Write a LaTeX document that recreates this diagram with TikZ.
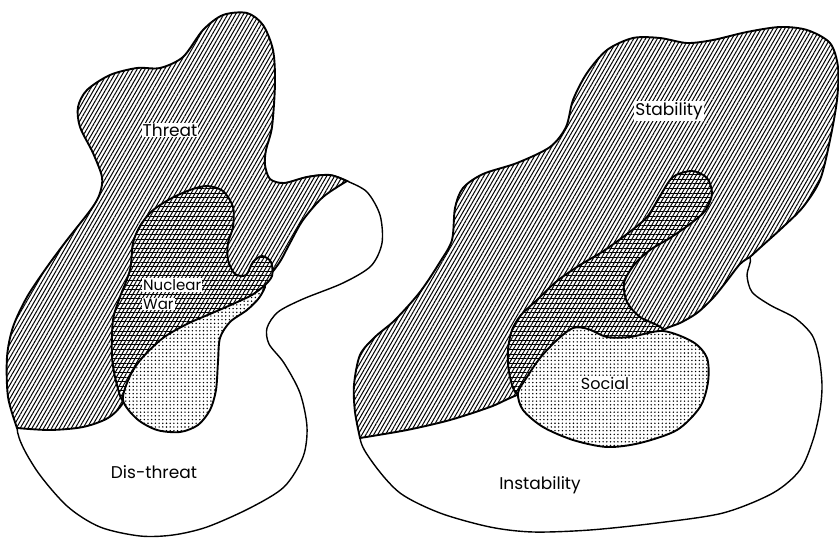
\documentclass[tikz,border=0pt]{standalone}
\usepackage{fontspec}
\setmainfont{Poppins}
\usetikzlibrary{patterns.meta}

\begin{document}
\begin{tikzpicture}[x=1pt,y=-1pt,
	rim/.style={draw,line width=1.4pt,fill=white},
	hatched/.style={draw,line width=1.9pt,preaction={fill=white},
		preaction={pattern={Lines[angle=60,distance=3.4pt,line width=1pt]}}},
	gridded/.style={hatched,preaction={pattern={Lines[angle=0,distance=4.6pt,line width=0.8pt]}}},
	speckled/.style={draw,line width=1.9pt,preaction={fill=white},
		preaction={pattern={Dots[distance=3.7pt,radius=0.8pt]}}},
	lbl/.style={fill=white,inner sep=1pt,font=\fontsize{17}{20}\selectfont},
	sublbl/.style={lbl,font=\fontsize{15}{18}\selectfont}]
	\useasboundingbox (0,0) rectangle (839,538);
	% left: threat
	\draw[rim] plot[smooth cycle] coordinates {(307,177) (330,175) (347,181) (367,192) (380,215) (382,243) (371,266) (343,283) (303,299) (278,312) (267,328) (269,344) (284,363) (300,393) (307,427) (303,457) (284,487) (250,508) (207,527) (173,535) (140,536) (100,527) (67,506) (35,468) (17,428) (30,380) (100,300) (200,220) (270,190)};
	\draw[hatched] plot[smooth] coordinates {(17,428) (50,430) (83,427) (108,418) (123,403) (140,370) (170,330) (210,300) (250,285) (266,280)}
		-- plot[smooth] coordinates {(266,280) (274,270) (281,260) (290,243) (303,220) (323,197) (347,181)}
		-- plot[smooth] coordinates {(347,181) (330,175) (307,177) (284,183) (270,179) (265,165) (266,150) (272,127) (275,83) (273,50) (263,25) (247,13) (223,15) (203,30) (183,57) (160,68) (137,68) (110,75) (87,90) (78,107) (80,127) (93,153) (102,177) (100,193) (92,208) (67,240) (47,267) (27,297) (13,327) (7,357) (8,397) (17,428)} -- cycle;
	\draw[gridded] plot[smooth cycle] coordinates {(207,186) (223,191) (233,207) (233,227) (228,243) (228,260) (235,274) (246,275) (253,262) (262,256) (271,262) (272,276) (263,287) (250,297) (215,325) (180,360) (150,390) (125,402) (117,385) (112,357) (113,320) (120,297) (130,270) (133,243) (140,226) (152,211) (170,199) (190,190)};
	\draw[speckled] plot[smooth cycle] coordinates {(123,400) (130,376) (142,358) (163,338) (187,324) (210,314) (233,304) (252,295) (265,286) (259,298) (247,310) (230,322) (220,338) (218,362) (216,390) (210,410) (198,425) (180,432) (157,430) (137,419)};
	\node[lbl] (threat) at (170,130) {Threat};
	\node[sublbl,anchor=west] (nuclear) at (142,285) {Nuclear};
	\node[sublbl,anchor=west] (war) at (142,304) {War};
	\node[lbl] (disthreat) at (154,472) {Dis-threat};
	% right: stability
	\draw[rim] plot[smooth cycle] coordinates {(730,243) (750,257) (747,275) (752,292) (770,305) (795,318) (812,335) (819,357) (822,385) (820,410) (813,440) (800,470) (773,493) (723,513) (657,523) (590,530) (533,532) (490,527) (440,513) (400,493) (373,463) (360,437) (370,400) (420,340) (520,290) (640,255)};
	\draw[hatched] plot[smooth] coordinates {(360,438) (355,412) (354,385) (360,355) (375,337) (395,320) (420,292) (440,262) (452,240) (455,208) (463,188) (483,174) (517,163) (550,147) (566,127) (573,100) (587,73) (607,50) (633,38) (660,38) (687,43) (713,40) (747,32) (780,27) (807,30) (830,43) (838,67) (837,100) (830,140) (820,180) (803,207) (783,227) (762,246) (750,257)}
		-- plot[smooth] coordinates {(750,257) (740,264) (726,282) (713,298) (697,313) (680,323) (663,330) (620,355) (570,378) (530,390) (510,398) (490,407) (450,420) (407,430) (360,438)} -- cycle;
	\draw[gridded] plot[smooth cycle] coordinates {(673,177) (692,171) (707,178) (712,194) (705,211) (690,224) (670,238) (650,250) (634,265) (624,283) (627,302) (640,317) (663,330) (640,348) (600,356) (560,368) (532,390) (516,393) (509,372) (508,350) (512,330) (521,315) (537,300) (557,281) (580,265) (602,252) (627,234) (647,217) (660,196)};
	\draw[speckled] plot[smooth cycle] coordinates {(518,393) (527,377) (540,358) (557,340) (573,328) (588,329) (607,337) (630,337) (663,331) (693,342) (707,358) (708,382) (700,407) (677,430) (640,443) (607,447) (573,440) (543,427) (523,410)};
	\node[lbl] (stability) at (669,111) {Stability};
	\node[lbl,font=\fontsize{16}{19}\selectfont] (social) at (605,383) {Social};
	\node[lbl] (instability) at (540,485) {Instability};
\end{tikzpicture}
\end{document}
